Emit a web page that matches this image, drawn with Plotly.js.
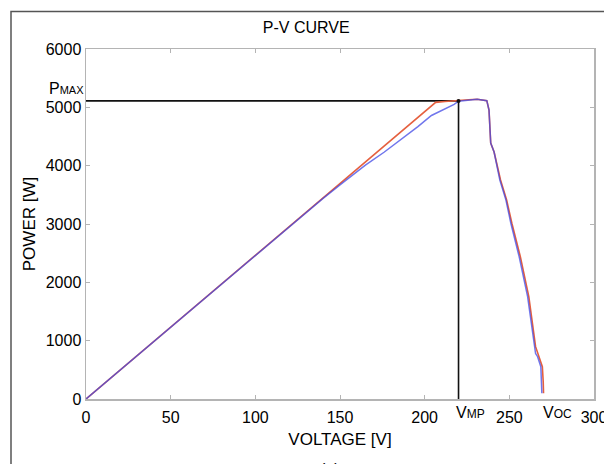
<!DOCTYPE html>
<html>
<head>
<meta charset="utf-8">
<script src="https://cdn.plot.ly/plotly-3.0.1.min.js"></script>
<style>
html,body{margin:0;padding:0;background:#fff;}
#chart{width:604px;height:464px;}
</style>
</head>
<body>
<div id="chart"></div>
<script>
// ---- data ----
const voltRed  = [0, 50, 100, 150, 190, 206.5, 212, 220, 226, 231, 236.7, 238, 239, 241, 244.8, 248.4, 251.5, 256.5, 261.5, 265.5, 267.5, 269.5, 270, 270.2];
const powerRed = [0, 1230, 2460, 3690, 4675, 5085, 5100, 5110, 5130, 5138, 5114, 4954, 4389, 4234, 3754, 3411, 3012, 2440, 1754, 897, 725, 554, 300, 100];

const voltBlue  = [0, 50, 100, 140, 150, 165, 176, 188, 196, 204, 212, 217.4, 220, 226, 231, 236.7, 238, 239, 241, 244.4, 248, 250.9, 255.8, 260.8, 264.7, 265.5, 266.7, 268.6, 269.2];
const powerBlue = [0, 1230, 2460, 3440, 3670, 4010, 4230, 4490, 4670, 4860, 4975, 5050, 5105, 5125, 5138, 5114, 4954, 4389, 4234, 3754, 3411, 3012, 2440, 1754, 897, 780, 725, 554, 98];

const vMP  = 220;
const pMAX = 5110;
const vOC  = 268.5;

const xTicks = [0, 50, 100, 150, 200, 250, 300];
const yTicks = [0, 1000, 2000, 3000, 4000, 5000, 6000];

const FONT = "Liberation Sans, Arial, sans-serif";

const traces = [
  { x: [0, vMP, vMP], y: [pMAX, pMAX, 0], mode: 'lines',
    line: { color: '#111', width: 1.6 }, hoverinfo: 'skip' },
  { x: voltRed, y: powerRed, mode: 'lines',
    line: { color: '#e5603f', width: 1.6 } },
  { x: voltBlue, y: powerBlue, mode: 'lines', opacity: 0.75,
    line: { color: '#4048e6', width: 1.5 } },
  { x: [vMP], y: [pMAX], mode: 'markers',
    marker: { color: '#111', size: 4 }, hoverinfo: 'skip' }
];

const axisCommon = {
  showline: true, linecolor: '#b4b4b4', linewidth: 1.5, mirror: 'ticks',
  ticks: 'inside', ticklen: 4, tickcolor: '#b4b4b4', tickwidth: 1,
  showgrid: false, zeroline: false, ticklabeloverflow: 'allow',
  tickfont: { family: FONT, size: 16, color: '#000' }
};

const layout = {
  width: 604, height: 464,
  margin: { l: 86, r: 10, t: 49, b: 65 },
  paper_bgcolor: '#fff', plot_bgcolor: '#fff',
  showlegend: false,
  font: { family: FONT, color: '#000' },
  title: { text: 'P-V CURVE', font: { family: FONT, size: 16, color: '#000' },
           x: 0.507, xanchor: 'center', xref: 'container',
           y: 1 - 27/464, yanchor: 'middle', yref: 'container' },
  xaxis: Object.assign({}, axisCommon, {
    range: [0, 300], tickvals: xTicks, ticktext: xTicks.map(String),
    ticklabelstandoff: 3,
    title: { text: 'VOLTAGE [V]', font: { family: FONT, size: 17, color: '#000' }, standoff: 8 }
  }),
  yaxis: Object.assign({}, axisCommon, {
    range: [0, 6000], tickvals: yTicks, ticktext: yTicks.map(String),
    title: { text: 'POWER [W]', font: { family: FONT, size: 17, color: '#000' }, standoff: 6 }
  }),
  shapes: [
    { type: 'rect', xref: 'paper', yref: 'paper',
      x0: (11 - 86) / 508, x1: (612 - 86) / 508,
      y0: (399 - 475) / 350, y1: (399 - 11.5) / 350,
      line: { color: '#555', width: 1.5 }, fillcolor: 'rgba(0,0,0,0)', layer: 'below' }
  ],
  annotations: [
    { text: "P<span style='font-size:11px'>MAX</span>", xref: 'paper', yref: 'y',
      x: (46.7 - 86) / 508, y: 5320, xanchor: 'left', yanchor: 'middle',
      showarrow: false, font: { family: FONT, size: 16, color: '#000' } },
    { text: "V<span style='font-size:12px'>MP</span>", xref: 'x', yref: 'paper',
      x: vMP - 2.5, y: (399 - 412) / 350, xanchor: 'left', yanchor: 'middle',
      showarrow: false, font: { family: FONT, size: 16, color: '#000' } },
    { text: "V<span style='font-size:12px'>OC</span>", xref: 'x', yref: 'paper',
      x: vOC, y: (399 - 412) / 350, xanchor: 'left', yanchor: 'middle',
      showarrow: false, font: { family: FONT, size: 16, color: '#000' } },
    { text: "(a)", xref: 'paper', yref: 'paper',
      x: (330 - 86) / 508, y: (399 - 459) / 350, xanchor: 'center', yanchor: 'top',
      showarrow: false, font: { family: FONT, size: 16, color: '#000' } }
  ]
};

Plotly.newPlot('chart', traces, layout, { displayModeBar: false, staticPlot: true });
</script>
</body>
</html>
